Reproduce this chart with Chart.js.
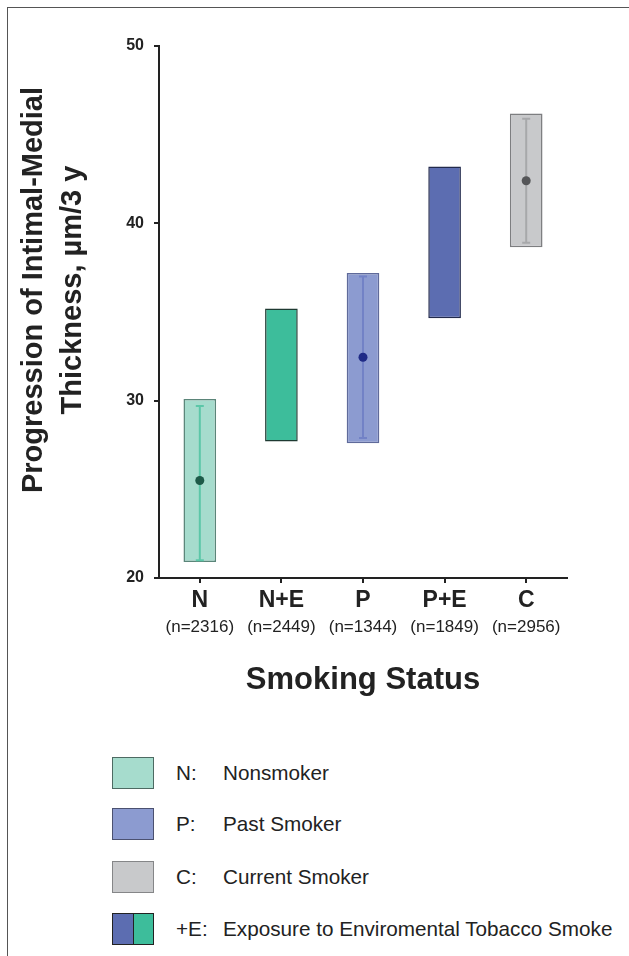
<!DOCTYPE html>
<html>
<head>
<meta charset="utf-8">
<script src="https://cdn.jsdelivr.net/npm/chart.js@4"></script>
<style>
  html, body { margin: 0; padding: 0; background: #fff; }
  body { width: 629px; height: 956px; position: relative; overflow: hidden; font-family: "Liberation Sans", Arial, sans-serif; color: #222; }
  #frame { position: absolute; left: 7px; top: 7px; right: -5px; bottom: -5px; border-top: 1.5px solid #555; border-left: 1.5px solid #555; }
  #chartWrap { position: absolute; left: 0; top: 0; width: 629px; height: 720px; }
  #ytitle { position: absolute; left: -198px; top: 251px; width: 500px; height: 78px; line-height: 39px;
            font-weight: bold; font-size: 29px; text-align: center; transform: rotate(-90deg); transform-origin: 50% 50%; color: #222; white-space: nowrap; }
  .lg { position: absolute; left: 0; height: 32px; width: 629px; }
  .box { position: absolute; left: 112px; top: 0; width: 40px; height: 30px; border: 1.5px solid #444; box-sizing: content-box; }
  .key { position: absolute; left: 176px; top: 0; line-height: 32px; font-size: 20.7px; color: #222; }
  .desc { position: absolute; left: 223px; top: 0; line-height: 32px; font-size: 20.7px; color: #222; white-space: nowrap; }
</style>
</head>
<body>
<div id="frame"></div>
<div id="chartWrap"><canvas id="c" width="629" height="720"></canvas></div>
<div id="ytitle">Progression of Intimal-Medial<br>Thickness, µm/3 y</div>

<div class="lg" style="top:757px"><div class="box" style="background:#a6dccd;border-color:#4d6a62;"></div><span class="key">N:</span><span class="desc">Nonsmoker</span></div>
<div class="lg" style="top:808px"><div class="box" style="background:#8c9bd0;border-color:#4b5170;"></div><span class="key">P:</span><span class="desc">Past Smoker</span></div>
<div class="lg" style="top:861px"><div class="box" style="background:#c8c9cb;border-color:#858688;"></div><span class="key">C:</span><span class="desc">Current Smoker</span></div>
<div class="lg" style="top:913px"><div class="box" style="background:linear-gradient(to right,#5c6db1 0,#5c6db1 20px,#222 20px,#222 21px,#3dbd9b 21px);border-color:#222;"></div><span class="key">+E:</span><span class="desc">Exposure to Enviromental Tobacco Smoke</span></div>

<script>
// ---- data ----
const categories = ["N", "N+E", "P", "P+E", "C"];
const sampleSizes = ["(n=2316)", "(n=2449)", "(n=1344)", "(n=1849)", "(n=2956)"];
const boxLow  = [20.9, 27.7, 27.6, 34.65, 38.65];
const boxHigh = [30.1, 35.2, 37.2, 43.2, 46.2];
const means   = [25.5, null, 32.45, null, 42.4];
const errLow  = [21.0, null, 27.9, null, 38.9];
const errHigh = [29.7, null, 37.0, null, 45.9];
const yTicks  = [20, 30, 40, 50];

// ---- styles ----
const fillColors   = ["#a6dccd", "#3dbd9b", "#8c9bd0", "#5c6db1", "#c8c9cb"];
const borderColors = ["#5b8579", "#1e3a32", "#5f6a9a", "#222a4c", "#7d7e80"];
const whiskerColors = ["#5cc7a8", null, "#7282c6", null, "#a7a8aa"];
const dotColors    = ["#1d5a48", null, "#1f2b86", null, "#555658"];

const FONT = "'Liberation Sans', Arial, sans-serif";

const whiskerPlugin = {
  id: 'whiskers',
  afterDatasetDraw(chart, args) {
    if (args.index !== 0) return;
    const ctx = chart.ctx;
    const xs = chart.scales.x, ys = chart.scales.y;
    ctx.save();
    for (let i = 0; i < categories.length; i++) {
      if (errLow[i] == null) continue;
      const x = xs.getPixelForValue(i);
      const y1 = ys.getPixelForValue(errLow[i]);
      const y2 = ys.getPixelForValue(errHigh[i]);
      ctx.strokeStyle = whiskerColors[i];
      ctx.lineWidth = 2;
      ctx.beginPath();
      ctx.moveTo(x, y1); ctx.lineTo(x, y2);
      ctx.moveTo(x - 4, y1); ctx.lineTo(x + 4, y1);
      ctx.moveTo(x - 4, y2); ctx.lineTo(x + 4, y2);
      ctx.stroke();
    }
    ctx.restore();
  }
};

new Chart(document.getElementById('c'), {
  type: 'bar',
  data: {
    labels: categories,
    datasets: [
      {
        type: 'bar',
        data: categories.map((c, i) => [boxLow[i], boxHigh[i]]),
        backgroundColor: fillColors,
        borderColor: borderColors,
        borderWidth: 1.5,
        borderSkipped: false,
        barPercentage: 0.4,
        categoryPercentage: 1.0,
        order: 2
      },
      {
        type: 'line',
        data: means,
        showLine: false,
        pointRadius: 4.5,
        pointBorderWidth: 0,
        pointBackgroundColor: dotColors,
        order: 1
      }
    ]
  },
  options: {
    responsive: false,
    animation: false,
    events: [],
    layout: { padding: { left: 0, top: 46, right: 62, bottom: 0 } },
    plugins: { legend: { display: false }, tooltip: { enabled: false } },
    scales: {
      y: {
        min: 20, max: 50,
        afterFit(s) { s.width = 159; },
        afterBuildTicks(s) { s.ticks = yTicks.map(v => ({ value: v })); },
        ticks: { padding: 10, color: '#222', font: { family: FONT, size: 16, weight: 'bold' } },
        grid: { drawOnChartArea: false, drawTicks: true, tickLength: 5, color: '#222', lineWidth: 2 },
        border: { display: true, color: '#222', width: 2 }
      },
      x: {
        position: 'bottom',
        offset: true,
        afterFit(s) { s.height = 34; },
        ticks: { padding: 4, color: '#222', font: { family: FONT, size: 23, weight: 'bold' } },
        grid: { offset: false, drawOnChartArea: false, drawTicks: true, tickLength: 5, color: '#222', lineWidth: 2 },
        border: { display: true, color: '#222', width: 2 }
      },
      x2: {
        type: 'category',
        position: 'bottom',
        labels: sampleSizes,
        offset: true,
        afterFit(s) { s.height = 108; },
        ticks: { padding: 5, color: '#222', font: { family: FONT, size: 17 } },
        grid: { display: false, drawTicks: false, drawOnChartArea: false },
        border: { display: false },
        title: { display: true, text: 'Smoking Status', color: '#222',
                 font: { family: FONT, size: 31, weight: 'bold' }, padding: { top: 0, bottom: 21 } }
      }
    }
  },
  plugins: [whiskerPlugin]
});
</script>
</body>
</html>
